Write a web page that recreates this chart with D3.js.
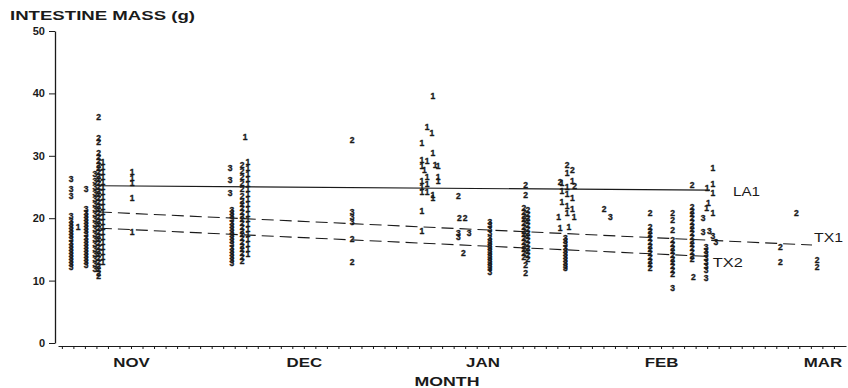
<!DOCTYPE html>
<html>
<head>
<meta charset="utf-8">
<script src="https://cdn.jsdelivr.net/npm/d3@7"></script>
<style>
  body { margin: 0; background: #fff; }
  svg { display: block; }
  text { font-family: "Liberation Sans", Arial, sans-serif; fill: #1a1a1a; }
  .axis path, .axis line { stroke: #1a1a1a; }
</style>
</head>
<body>
<div id="chart"></div>
<script>
// days counted from Nov 1 (NOV label sits on Nov 15)
var months = ["NOV", "DEC", "JAN", "FEB", "MAR"];
var monthDays = [14, 44, 75, 106, 134];
var yTicks = [0, 10, 20, 30, 40, 50];

// digit "1" points  [day, intestine mass g]
var groupOne = [
  [4.8, 18.6],
  [9.1, 29.0], [9.1, 28.2], [9.1, 27.4], [9.1, 26.6], [9.1, 25.8], [9.1, 25.0], [9.1, 24.2],
  [9.1, 23.4], [9.1, 22.6], [9.1, 21.8], [9.1, 21.0], [9.1, 20.2], [9.1, 19.4], [9.1, 18.6],
  [9.1, 17.8], [9.1, 17.0], [9.1, 16.2], [9.1, 15.4], [9.1, 14.6], [9.1, 13.8], [9.1, 13.0],
  [14.2, 27.4], [14.2, 26.5], [14.2, 25.6], [14.2, 23.2], [14.2, 17.8],
  [33.8, 33.0], [34.3, 29.0], [34.3, 28.0], [34.3, 27.0], [34.3, 26.2], [34.3, 25.4], [34.3, 24.6],
  [34.3, 23.8], [34.3, 23.0], [34.3, 22.2], [34.3, 21.4], [34.3, 20.6], [34.3, 19.8], [34.3, 19.0],
  [34.3, 18.2], [34.3, 17.4], [34.3, 16.6], [34.3, 15.8], [34.3, 15.0], [34.3, 14.2],
  [66.4, 39.6], [65.4, 34.6], [66.2, 33.7], [64.5, 32.0], [66.4, 30.4], [64.5, 29.3], [65.4, 29.1],
  [66.8, 28.5], [67.3, 28.4], [64.5, 28.4], [64.9, 27.8], [67.3, 26.6], [65.4, 26.6], [67.3, 25.9],
  [64.5, 25.9], [65.4, 25.4], [64.5, 25.0], [64.5, 24.2], [65.4, 24.2], [66.4, 23.7], [66.4, 23.2],
  [64.5, 21.2], [64.5, 18.0],
  [89.7, 27.2], [88.8, 25.6], [90.6, 26.0], [89.7, 25.0], [88.8, 24.4], [89.7, 23.8], [90.6, 23.2],
  [88.8, 22.6], [89.7, 22.0], [90.6, 21.4], [88.2, 20.2], [89.7, 20.8], [90.9, 20.2], [88.5, 18.4],
  [90.0, 18.6],
  [115.0, 28.0], [115.0, 25.5], [114.0, 24.8], [115.0, 24.0], [114.2, 22.4], [113.9, 21.6], [115.0, 20.8]
];

// digit "2" points
var groupTwo = [
  [8.4, 36.2], [8.4, 32.9], [8.4, 32.2], [8.4, 30.5], [8.4, 29.8], [8.4, 29.2], [8.4, 28.6],
  [8.4, 28.0], [8.4, 27.4], [8.4, 26.8], [8.4, 26.2], [8.4, 25.6], [8.4, 25.0], [8.4, 24.4],
  [8.4, 23.8], [8.4, 23.2], [8.4, 22.6], [8.4, 22.0], [8.4, 21.4], [8.4, 20.8], [8.4, 20.2],
  [8.4, 19.6], [8.4, 19.0], [8.4, 18.4], [8.4, 17.8], [8.4, 17.2], [8.4, 16.6], [8.4, 16.0],
  [8.4, 15.4], [8.4, 14.8], [8.4, 14.2], [8.4, 13.6], [8.4, 13.0], [8.4, 12.4], [8.4, 11.8],
  [8.4, 11.2], [8.4, 10.7],
  [33.3, 28.6], [33.3, 27.6], [33.3, 26.6], [33.3, 25.6], [33.3, 24.6], [33.3, 23.6], [33.3, 22.8],
  [33.3, 22.2], [33.3, 21.6], [33.3, 21.0], [33.3, 20.4], [33.3, 19.8], [33.3, 19.2], [33.3, 18.6],
  [33.3, 18.0], [33.3, 17.4], [33.3, 16.8], [33.3, 16.2], [33.3, 15.6], [33.3, 15.0], [33.3, 14.4],
  [33.3, 13.8], [33.3, 13.2],
  [52.4, 32.5], [52.4, 16.6], [52.4, 13.0],
  [70.8, 23.6], [71.0, 20.0], [72.0, 20.0], [71.7, 14.4],
  [82.5, 25.3], [82.5, 23.7],
  [82.2, 21.6], [82.2, 21.0], [82.2, 20.4], [82.2, 19.8], [82.2, 19.2], [82.2, 18.6], [82.2, 18.0],
  [82.2, 17.4], [82.2, 16.8], [82.2, 16.2], [82.2, 15.6], [82.2, 15.0], [82.2, 14.4], [82.2, 13.8],
  [82.9, 21.3], [82.9, 20.7], [82.9, 20.1], [82.9, 19.5], [82.9, 18.9], [82.9, 18.3], [82.9, 17.7],
  [82.9, 17.1], [82.9, 16.5], [82.9, 15.9], [82.9, 15.3], [82.9, 14.7], [82.9, 14.1], [82.9, 13.5],
  [82.5, 12.5], [82.5, 11.2],
  [89.7, 28.5], [90.6, 27.7], [88.5, 25.8], [91.0, 25.2],
  [96.1, 21.5],
  [104.1, 20.9], [104.1, 18.6], [104.1, 18.0], [104.1, 17.4], [104.1, 16.8], [104.1, 16.2],
  [104.1, 15.6], [104.1, 15.0], [104.1, 14.4], [104.1, 13.8], [104.1, 13.2], [104.1, 12.6], [104.1, 12.0],
  [108.0, 20.9], [108.0, 19.7], [108.0, 18.1], [108.0, 16.5], [108.0, 15.9], [108.0, 15.3],
  [108.0, 14.7], [108.0, 14.1], [108.0, 13.5], [108.0, 12.9], [108.0, 12.3], [108.0, 11.7], [108.0, 11.1],
  [111.4, 25.3], [111.4, 21.8], [111.4, 21.2], [111.4, 20.6], [111.4, 20.0], [111.4, 19.4],
  [111.4, 18.8], [111.4, 18.2], [111.4, 17.6], [111.4, 17.0], [111.4, 16.4], [111.4, 15.8],
  [111.4, 15.2], [111.4, 14.6], [111.4, 14.0], [111.4, 13.4], [111.6, 10.6],
  [129.5, 20.8], [126.7, 15.4], [126.7, 13.0],
  [133.1, 13.3], [133.1, 12.2]
];

// digit "3" points
var groupThree = [
  [3.6, 26.2], [3.6, 24.6], [3.6, 23.6], [3.6, 20.4],
  [3.6, 19.6], [3.6, 19.1], [3.6, 18.6], [3.6, 18.1], [3.6, 17.6], [3.6, 17.1], [3.6, 16.6],
  [3.6, 16.1], [3.6, 15.6], [3.6, 15.1], [3.6, 14.6], [3.6, 14.1], [3.6, 13.6], [3.6, 13.1],
  [3.6, 12.6], [3.6, 12.2],
  [6.2, 24.6], [6.2, 21.4], [6.2, 20.9], [6.2, 20.4], [6.2, 19.9], [6.2, 19.4], [6.2, 18.9],
  [6.2, 18.4], [6.2, 17.9], [6.2, 17.4], [6.2, 16.9], [6.2, 16.4], [6.2, 15.9], [6.2, 15.4],
  [6.2, 14.9], [6.2, 14.4], [6.2, 13.9], [6.2, 13.4], [6.2, 12.9], [6.2, 12.5],
  [7.75, 27.0], [7.75, 26.0], [7.75, 25.0], [7.75, 24.0], [7.75, 23.0], [7.75, 22.2], [7.75, 21.4],
  [7.75, 20.6], [7.75, 19.8], [7.75, 19.0], [7.75, 18.2], [7.75, 17.4], [7.75, 16.6], [7.75, 15.8],
  [7.75, 15.0], [7.75, 14.2], [7.75, 13.4], [7.75, 12.6], [7.75, 11.8],
  [31.2, 28.0], [31.2, 26.1], [31.2, 24.0],
  [31.5, 21.3], [31.5, 20.8], [31.5, 20.3], [31.5, 19.8], [31.5, 19.3], [31.5, 18.8], [31.5, 18.3],
  [31.5, 17.8], [31.5, 17.3], [31.5, 16.8], [31.5, 16.3], [31.5, 15.8], [31.5, 15.3], [31.5, 14.8],
  [31.5, 14.3], [31.5, 13.8], [31.5, 13.3], [31.5, 12.8],
  [52.4, 21.0], [52.4, 20.2], [52.4, 19.4],
  [70.8, 17.6], [70.8, 17.0], [72.7, 17.7],
  [76.3, 19.4], [76.3, 18.9], [76.3, 18.2], [76.3, 17.6], [76.3, 16.9], [76.3, 16.4], [76.3, 16.0],
  [76.3, 15.6], [76.3, 15.2], [76.3, 14.8], [76.3, 14.4], [76.3, 14.0], [76.3, 13.6], [76.3, 13.2],
  [76.3, 12.8], [76.3, 12.4], [76.3, 12.0], [76.3, 11.4],
  [89.4, 16.8], [89.4, 16.3], [89.4, 15.8], [89.4, 15.3], [89.4, 14.8], [89.4, 14.3], [89.4, 13.8],
  [89.4, 13.3], [89.4, 12.8], [89.4, 12.3], [89.4, 12.0],
  [97.2, 20.2],
  [108.0, 8.8],
  [113.3, 20.0], [113.3, 17.8], [114.4, 18.0], [115.0, 17.2], [115.5, 16.2],
  [113.8, 15.4], [113.8, 14.8], [113.8, 14.2], [113.8, 13.6], [113.8, 13.0], [113.8, 12.4],
  [113.8, 11.7], [113.8, 10.4]
];

// fitted lines, end points [day, g]
var lineLA1 = [[8.6, 25.2], [114.5, 24.5]];
var lineTX1 = [[8.6, 21.0], [132.2, 15.7]];
var lineTX2 = [[8.6, 18.4], [113.6, 13.9]];

var width = 848, height = 388;

var svg = d3.select("#chart").append("svg")
    .attr("width", width)
    .attr("height", height);

// Scales
var x = d3.scaleLinear()
    .domain([1.33, 138.1])
    .range([58, 846]);
var y = d3.scaleLinear()
    .domain([0, 50])
    .range([343, 31]);

// Title
svg.append("text")
    .attr("x", 10)
    .attr("y", 19.5)
    .attr("font-size", "13px")
    .attr("font-weight", "bold")
    .attr("textLength", 185)
    .attr("lengthAdjust", "spacingAndGlyphs")
    .text("INTESTINE MASS (g)");

// Y Axis
var yAxisCall = d3.axisLeft(y)
    .tickValues(yTicks)
    .tickSizeInner(6)
    .tickSizeOuter(0)
    .tickPadding(4);
var yAxis = svg.append("g")
    .attr("class", "y axis")
    .attr("transform", "translate(55,0)")
    .call(yAxisCall);
yAxis.select(".domain").attr("stroke-width", 1.3);
yAxis.selectAll("text")
    .attr("font-size", "11px")
    .attr("font-weight", "bold")
    .attr("font-family", "Liberation Sans, Arial, sans-serif");

// X Axis: line with small ticks
var xMinor = d3.axisBottom(x)
    .tickValues(d3.range(2, 138, 2))
    .tickSizeInner(3)
    .tickSizeOuter(0)
    .tickFormat("");
svg.append("g")
    .attr("class", "x axis")
    .attr("transform", "translate(0,346)")
    .call(xMinor);

// month labels
var xAxisCall = d3.axisBottom(x)
    .tickValues(monthDays)
    .tickSize(0)
    .tickPadding(12)
    .tickFormat(function(d, i) { return months[i]; });
var xAxis = svg.append("g")
    .attr("class", "x axis")
    .attr("transform", "translate(0,346)")
    .call(xAxisCall);
xAxis.select(".domain").remove();
xAxis.selectAll("text")
    .attr("font-size", "12.5px")
    .attr("font-weight", "bold")
    .attr("font-family", "Liberation Sans, Arial, sans-serif")
    .attr("transform", "scale(1.35,1)");

svg.append("text")
    .attr("x", 447)
    .attr("y", 386)
    .attr("text-anchor", "middle")
    .attr("font-size", "12px")
    .attr("font-weight", "bold")
    .attr("textLength", 65)
    .attr("lengthAdjust", "spacingAndGlyphs")
    .text("MONTH");

// Fitted lines
var line = d3.line()
    .x(function(d) { return x(d[0]); })
    .y(function(d) { return y(d[1]); });

svg.append("path")
    .datum(lineLA1)
    .attr("fill", "none")
    .attr("stroke", "#1a1a1a")
    .attr("stroke-width", 1.1)
    .attr("d", line);
svg.append("path")
    .datum(lineTX1)
    .attr("fill", "none")
    .attr("stroke", "#1a1a1a")
    .attr("stroke-width", 1.1)
    .attr("stroke-dasharray", "12,6")
    .attr("d", line);
svg.append("path")
    .datum(lineTX2)
    .attr("fill", "none")
    .attr("stroke", "#1a1a1a")
    .attr("stroke-width", 1.1)
    .attr("stroke-dasharray", "12,6")
    .attr("d", line);

// Points drawn as group digits
function drawDigits(data, digit) {
    svg.append("g")
        .selectAll("text")
        .data(data)
        .enter()
        .append("text")
            .attr("x", function(d) { return x(d[0]); })
            .attr("y", function(d) { return y(d[1]); })
            .attr("dy", "0.35em")
            .attr("text-anchor", "middle")
            .attr("font-size", "8.5px")
            .attr("font-weight", "bold")
            .attr("stroke", "#1a1a1a")
            .attr("stroke-width", 0.35)
            .text(digit);
}
drawDigits(groupThree, "3");
drawDigits(groupTwo, "2");
drawDigits(groupOne, "1");

// Line labels
function lineLabel(pts, dx, dy, txt, len) {
    var end = pts[pts.length - 1];
    svg.append("text")
        .attr("x", x(end[0]) + dx)
        .attr("y", y(end[1]) + dy)
        .attr("font-size", "12px")
        .attr("textLength", len)
        .attr("lengthAdjust", "spacingAndGlyphs")
        .text(txt);
}
lineLabel(lineLA1, 23, 6, "LA1", 27);
lineLabel(lineTX1, 2, -3, "TX1", 29);
lineLabel(lineTX2, 8, 11, "TX2", 30);
</script>
</body>
</html>
